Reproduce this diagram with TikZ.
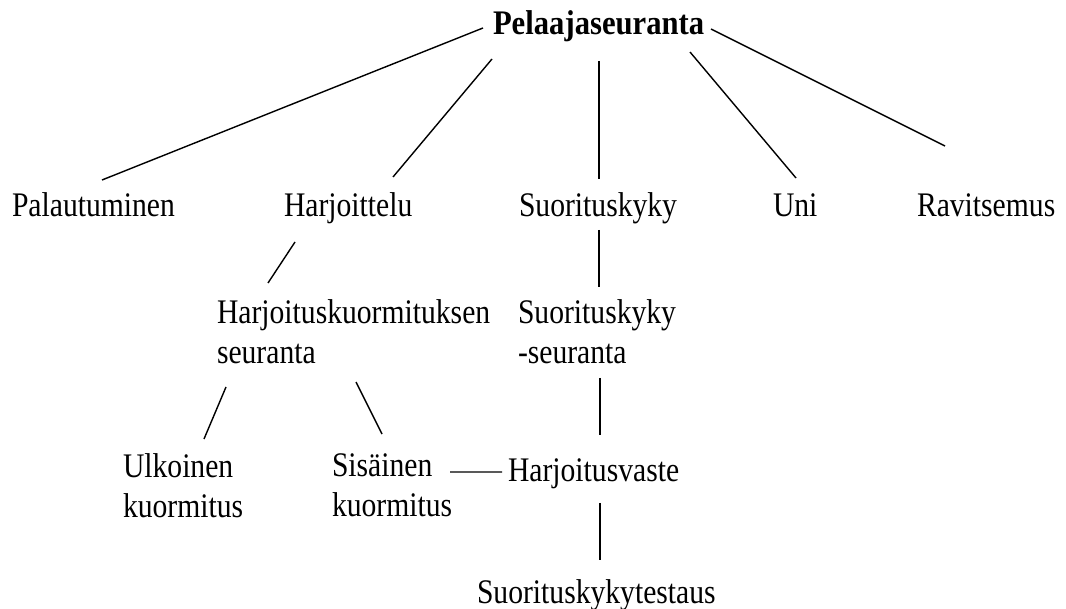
\documentclass[tikz,border=0pt]{standalone}
\usepackage{fontspec}
\setmainfont[FakeStretch=0.86,BoldFeatures={FakeStretch=0.89}]{Liberation Serif}
\usetikzlibrary{calc}
\begin{document}
\begin{tikzpicture}[x=0.025cm,y=-0.025cm,
  lbl/.style={inner sep=0pt,outer sep=0pt,font=\fontsize{24.5}{28.5}\selectfont},
  one/.style={lbl,anchor=base west},
  two/.style={lbl,anchor=north west,align=left},
  conn/.style={draw=black,line width=1pt}]
\useasboundingbox (0,0) rectangle (1066,609);
\node[one,font=\fontsize{24.5}{28.5}\selectfont\bfseries] (pel) at (493,35) {Pelaajaseuranta};
\node[one] (pal) at (12,217) {Palautuminen};
\node[one] (har) at (284,217) {Harjoittelu};
\node[one] (suo) at (519,217) {Suorituskyky};
\node[one] (uni) at (773,217) {Uni};
\node[one] (rav) at (917,217) {Ravitsemus};
\node[two] (hks) at (217,299.5) {Harjoituskuormituksen\\seuranta};
\node[two] (sks) at (518,299.5) {Suorituskyky\\-seuranta};
\node[two] (ulk) at (123,453.5) {Ulkoinen\\kuormitus};
\node[two] (sis) at (332,453.5) {Sisäinen\\kuormitus};
\node[one] (hv) at (508,482) {Harjoitusvaste};
\node[one] (test) at (477,603) {Suorituskykytestaus};
\draw[conn] ($(pel.base west)+(-10,-7)$) -- ($(pal.base west)+(90,-37)$);
\draw[conn] ($(pel.base west)+(-1,24)$) -- ($(har.base west)+(109,-40)$);
\draw[conn] ($(pel.base west)+(106,26)$) -- ($(suo.base west)+(80,-38)$);
\draw[conn] ($(pel.base west)+(197,17)$) -- ($(uni.base west)+(23,-39)$);
\draw[conn] ($(pel.base west)+(218,-6)$) -- ($(rav.base west)+(28,-71)$);
\draw[conn] ($(har.base west)+(11,25)$) -- ($(hks.north west)+(51,-16.5)$);
\draw[conn] ($(suo.base west)+(80,13)$) -- ($(sks.north west)+(81,-12.5)$);
\draw[conn] ($(hks.north west)+(9,87.5)$) -- ($(ulk.north west)+(81,-14.5)$);
\draw[conn] ($(hks.north west)+(139,82.5)$) -- ($(sis.north west)+(50,-19.5)$);
\draw[conn] ($(sis.north west)+(118,18.5)$) -- ($(hv.base west)+(-6,-10)$);
\draw[conn] ($(sks.north west)+(82,78.5)$) -- ($(hv.base west)+(92,-47)$);
\draw[conn] ($(hv.base west)+(92,21)$) -- ($(test.base west)+(123,-43)$);
\end{tikzpicture}
\end{document}
